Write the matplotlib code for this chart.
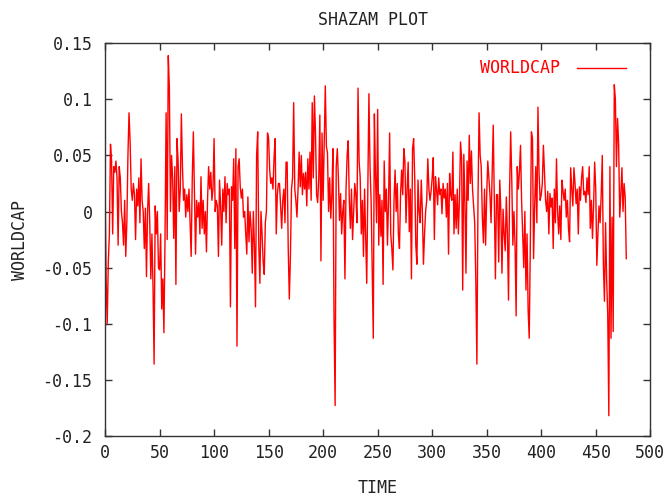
"""SHAZAM PLOT - WORLDCAP series, gnuplot look."""

import numpy as np
import matplotlib
matplotlib.use("Agg")
import matplotlib.pyplot as plt
from matplotlib.ticker import FuncFormatter, MultipleLocator

# values, 10 per row (t = 0 .. 478)
worldcap = [
    0.028, -0.06, -0.1, -0.045, -0.02, 0.06, 0.045, -0.02, 0.04, 0.035,
    0.045, 0.03, -0.03, 0.04, 0.03, 0.0, -0.01, -0.03, 0.01, -0.04,
    -0.01, 0.05, 0.088, 0.062, 0.02, 0.01, 0.025, 0.015, -0.025, 0.02,
    0.005, 0.03, -0.01, 0.047, 0.01, 0.0, -0.033, 0.003, -0.058, 0.0,
    0.025, -0.01, -0.06, -0.02, -0.067, -0.136, 0.005, -0.02, 0.0, -0.05,
    -0.052, -0.02, -0.087, -0.06, -0.108, -0.025, 0.088, -0.025, 0.139, 0.11,
    0.0, 0.05, 0.03, -0.024, 0.04, -0.065, 0.065, 0.045, 0.0, 0.02,
    0.087, 0.04, 0.01, 0.02, -0.005, 0.015, 0.0, 0.02, -0.01, -0.04,
    0.03, 0.071, 0.015, -0.038, 0.01, -0.005, 0.008, -0.02, 0.031, -0.015,
    0.01, -0.02, 0.0, -0.036, 0.01, 0.04, 0.02, 0.035, 0.01, 0.02,
    0.065, 0.0, 0.01, 0.005, -0.04, 0.028, 0.005, -0.03, 0.02, 0.0,
    0.031, -0.01, 0.025, 0.015, 0.02, -0.085, 0.022, 0.01, 0.047, -0.033,
    0.056, -0.12, 0.04, 0.047, 0.022, 0.012, 0.02, -0.005, 0.0, -0.02,
    -0.038, 0.013, -0.027, 0.0, -0.015, -0.055, 0.0, -0.03, -0.085, 0.05,
    0.071, -0.03, -0.064, 0.0, -0.02, -0.045, -0.056, -0.01, 0.0, 0.07,
    0.065, 0.037, 0.025, 0.03, 0.02, 0.048, 0.065, -0.02, 0.015, 0.025,
    0.025, 0.005, -0.015, 0.01, 0.02, -0.01, 0.044, 0.044, -0.033, -0.078,
    -0.04, 0.02, 0.03, 0.097, 0.02, 0.01, -0.005, 0.02, 0.053, 0.022,
    0.05, 0.015, 0.034, 0.02, 0.035, 0.005, 0.047, 0.02, 0.053, 0.01,
    0.097, 0.03, 0.103, 0.07, 0.015, 0.008, 0.03, 0.086, -0.044, 0.07,
    0.01, 0.06, 0.112, 0.058, 0.052, 0.0, 0.03, -0.006, 0.015, 0.056,
    -0.096, -0.173, 0.04, 0.056, 0.03, -0.008, 0.016, -0.02, 0.0, 0.01,
    -0.06, 0.02, 0.05, 0.063, 0.01, -0.015, 0.02, -0.025, 0.0, 0.025,
    0.015, -0.01, 0.11, 0.045, 0.03, -0.02, 0.01, -0.04, 0.02, -0.02,
    -0.064, 0.02, 0.105, 0.04, 0.01, -0.05, -0.113, 0.087, 0.033, -0.01,
    0.091, -0.03, 0.015, -0.022, 0.01, -0.065, 0.045, 0.0, 0.02, -0.03,
    0.01, 0.07, -0.02, -0.033, -0.052, 0.01, 0.037, 0.0, 0.025, -0.02,
    -0.033, 0.015, 0.037, 0.015, 0.056, 0.045, -0.01, 0.02, 0.044, -0.018,
    0.02, -0.06, 0.056, 0.065, 0.03, -0.03, -0.047, 0.028, 0.0, -0.01,
    0.028, 0.0, -0.047, -0.02, 0.0, 0.01, 0.047, 0.02, 0.01, 0.018,
    0.03, 0.048, -0.025, 0.031, 0.02, 0.006, 0.03, 0.015, 0.02, -0.002,
    0.025, 0.012, 0.02, -0.005, 0.025, -0.038, 0.034, 0.015, 0.01, 0.053,
    -0.02, 0.015, -0.015, 0.02, -0.02, 0.01, 0.062, 0.047, -0.07, 0.051,
    0.01, -0.055, 0.045, 0.01, 0.068, 0.025, 0.054, 0.02, 0.005, -0.01,
    -0.06, -0.136, 0.01, 0.088, 0.05, 0.04, -0.005, -0.028, 0.02, -0.03,
    0.015, 0.045, 0.03, 0.015, -0.01, 0.035, 0.077, 0.01, -0.06, 0.015,
    0.015, -0.045, 0.028, 0.0, -0.055, 0.002, -0.02, -0.035, 0.013, -0.02,
    -0.079, 0.02, 0.071, 0.028, -0.03, 0.0, -0.03, -0.093, 0.04, 0.02,
    0.035, 0.059, 0.01, -0.02, -0.05, 0.0, -0.07, -0.02, -0.088, -0.113,
    -0.03, 0.071, 0.065, -0.042, 0.005, 0.04, -0.01, 0.093, 0.035, 0.01,
    0.015, 0.025, 0.059, 0.035, 0.01, 0.0, 0.018, -0.02, 0.016, 0.004,
    0.012, -0.033, 0.02, -0.01, 0.047, 0.0, -0.02, 0.005, -0.025, 0.028,
    0.018, 0.01, 0.02, -0.005, 0.01, -0.015, -0.027, 0.039, 0.02, 0.005,
    0.039, 0.025, 0.007, 0.02, -0.02, 0.022, 0.01, 0.03, 0.04, 0.015,
    0.018, 0.008, 0.03, 0.015, 0.04, -0.015, 0.01, -0.024, 0.005, 0.044,
    0.02, -0.048, -0.02, 0.005, -0.01, 0.015, 0.05, -0.048, -0.08, -0.01,
    -0.06, -0.092, -0.182, 0.04, -0.113, -0.005, -0.107, 0.113, 0.1, 0.04,
    0.083, 0.06, -0.005, 0.015, 0.039, 0.0, 0.025, 0.013, -0.042,
]
time = np.arange(len(worldcap))

plt.rcParams["font.family"] = "DejaVu Sans Mono"
FS = 12

fig = plt.figure(figsize=(6.69, 4.97), dpi=100)
ax = fig.add_axes([0.157, 0.123, 0.815, 0.790])

ax.plot(time, worldcap, color="red", linewidth=1.0, label="WORLDCAP")

ax.set_xlim(0, 500)
ax.set_ylim(-0.2, 0.15)
ax.xaxis.set_major_locator(MultipleLocator(50))
ax.yaxis.set_major_locator(MultipleLocator(0.05))


def fmt(v, pos):
    v = round(v, 4)
    if v == 0:
        return "0"
    return f"{v:g}"


ax.yaxis.set_major_formatter(FuncFormatter(fmt))
ax.tick_params(direction="in", length=5, width=1, top=True, right=True,
               labelsize=FS, color="#333333", labelcolor="#222222")
ax.tick_params(axis="x", pad=6)
ax.tick_params(axis="y", pad=9)
for s in ax.spines.values():
    s.set_color("#333333")
    s.set_linewidth(1.0)

fig.text(372.5 / 669, 1 - 20 / 497, "SHAZAM PLOT", fontsize=FS,
         ha="center", va="center", color="#222222")
ax.set_xlabel("TIME", fontsize=FS, labelpad=12, color="#222222")
ax.set_ylabel("WORLDCAP", fontsize=FS, labelpad=10, color="#222222")

ax.legend(loc="upper right", frameon=False, markerfirst=False,
          labelcolor="red", fontsize=FS, handlelength=2.95,
          handletextpad=1.0, borderpad=0, borderaxespad=0,
          bbox_to_anchor=(0.956, 0.959))

fig.savefig("out.png", dpi=100)
plt.close(fig)
print("Saved: out.png")
